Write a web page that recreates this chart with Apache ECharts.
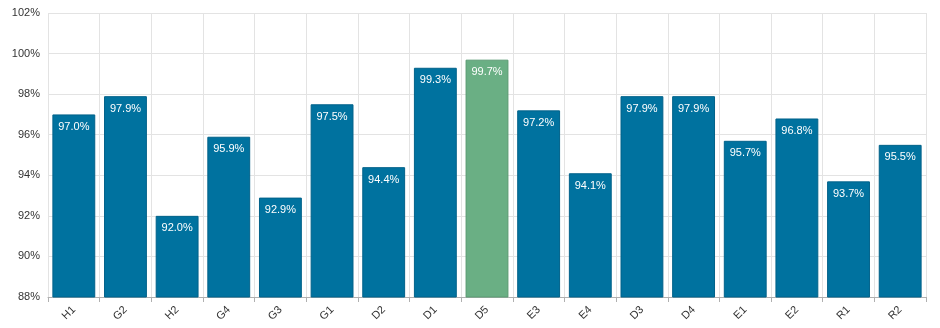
<!DOCTYPE html>
<html><head><meta charset="utf-8">
<script src="https://cdn.jsdelivr.net/npm/echarts@6/dist/echarts.min.js"></script>
<style>html,body{margin:0;padding:0;background:#fff}#c{width:940px;height:328px}</style>
</head><body><div id="c"></div>
<script>
const categories = ['H1','G2','H2','G4','G3','G1','D2','D1','D5','E3','E4','D3','D4','E1','E2','R1','R2'];
const values = [97.0,97.9,92.0,95.9,92.9,97.5,94.4,99.3,99.7,97.2,94.1,97.9,97.9,95.7,96.8,93.7,95.5];
const highlight = 'D5';
const chart = echarts.init(document.getElementById('c'), null, {renderer:'canvas'});
chart.setOption({
  animation:false,
  grid:{left:48,right:14,top:13,bottom:31,containLabel:false},
  xAxis:{type:'category',data:categories,
    axisLine:{lineStyle:{color:'#b0b0b0'}},
    axisTick:{show:true,length:5,lineStyle:{color:'#b0b0b0'}},
    splitLine:{show:true,lineStyle:{color:'#e3e3e3'}},
    axisLabel:{rotate:45,color:'#333',fontSize:11,fontFamily:'Liberation Sans, Arial',margin:11}},
  yAxis:{type:'value',min:88,max:102,interval:2,
    axisLine:{show:false},axisTick:{show:false},
    splitLine:{lineStyle:{color:'#e3e3e3'}},
    axisLabel:{formatter:v=>v+'%',color:'#333',fontSize:11,fontFamily:'Liberation Sans, Arial',margin:8}},
  series:[{type:'bar',barWidth:'83%',
    data:values.map((v,i)=>({value:v,itemStyle:categories[i]===highlight?{color:'#6aaf84',borderColor:'#5a9a72',borderWidth:1}:{color:'#00729f',borderColor:'#00628a',borderWidth:1}})),
    label:{show:true,position:'insideTop',distance:7,color:'#fff',fontSize:11,fontFamily:'Liberation Sans, Arial',formatter:p=>p.value.toFixed(1)+'%'}}]
});
</script></body></html>
